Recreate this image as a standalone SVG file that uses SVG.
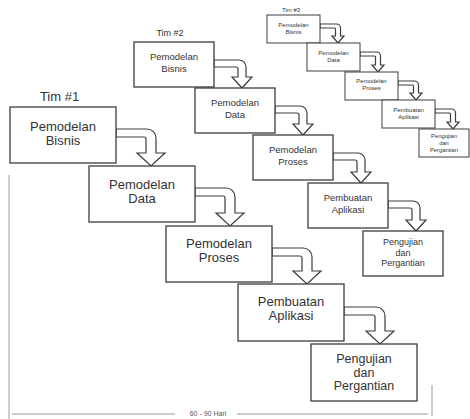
<svg xmlns="http://www.w3.org/2000/svg" width="470" height="419" viewBox="0 0 470 419">
<style>
.box{fill:#fff;stroke:#3c3c3c;stroke-width:1.3}
.arr{fill:#fff;stroke:#3c3c3c;stroke-width:1.2;stroke-linejoin:miter}
text{font-family:"Liberation Sans",Arial,sans-serif;fill:#333;text-anchor:middle}
.t1{font-size:13px}
.t1s{font-size:12.5px}
.t2{font-size:9.5px}
.t2s{font-size:9px}
.t3{font-size:6px}
.br{stroke:#9a9a9a;stroke-width:1;fill:none}
</style>
<rect width="470" height="419" fill="#fff"/>

<g id="connectors">
<path class="arr" d="M116,129 H147 A9,9 0 0 1 156,138 V153 H165 L151,166 L137,153 H146 V139 A2,2 0 0 0 144,137 H116 Z"/>
<path class="arr" d="M195,188 H226 A9,9 0 0 1 235,197 V213 H244 L230,226 L216,213 H225 V198 A2,2 0 0 0 223,196 H195 Z"/>
<path class="arr" d="M272,248 H303 A9,9 0 0 1 312,257 V271 H321 L307,284 L293,271 H302 V258 A2,2 0 0 0 300,256 H272 Z"/>
<path class="arr" d="M344,307 H376 A9,9 0 0 1 385,316 V331 H394 L380,344 L366,331 H375 V317 A2,2 0 0 0 373,315 H344 Z"/>
<path class="arr" d="M214,60 H239 A7,7 0 0 1 246,67 V77 H252 L242,88 L232,77 H238 V69 A2,2 0 0 0 236,67 H214 Z"/>
<path class="arr" d="M275,106 H300 A7,7 0 0 1 307,113 V124 H313 L303,135 L293,124 H299 V115 A2,2 0 0 0 297,113 H275 Z"/>
<path class="arr" d="M333,153 H358 A7,7 0 0 1 365,160 V172 H371 L361,183 L351,172 H357 V162 A2,2 0 0 0 355,160 H333 Z"/>
<path class="arr" d="M388,201 H413 A7,7 0 0 1 420,208 V220 H426 L416,231 L406,220 H412 V210 A2,2 0 0 0 410,208 H388 Z"/>
<path class="arr" d="M320,24 H336.5 A4,4 0 0 1 340.5,28 V36 H344 L338,43 L332,36 H335.5 V29 A1,1 0 0 0 334.5,28 H320 Z"/>
<path class="arr" d="M360,52 H376.5 A4,4 0 0 1 380.5,56 V65 H384 L378,72 L372,65 H375.5 V57 A1,1 0 0 0 374.5,56 H360 Z"/>
<path class="arr" d="M398,81 H414.5 A4,4 0 0 1 418.5,85 V93 H422 L416,100 L410,93 H413.5 V86 A1,1 0 0 0 412.5,85 H398 Z"/>
<path class="arr" d="M435,109 H451.5 A4,4 0 0 1 455.5,113 V122 H459 L453,129 L447,122 H450.5 V114 A1,1 0 0 0 449.5,113 H435 Z"/>
</g>

<g id="labels">
<text x="59.5" y="101" style="font-size:13px">Tim #1</text>
<text x="170" y="36" style="font-size:9px">Tim #2</text>
<text x="291" y="12" style="font-size:6px">Tim #3</text>
</g>

<g id="t1-bisnis"><rect class="box" x="10" y="107" width="106" height="56"/><text class="t1" x="63" y="131">Pemodelan</text><text class="t1" x="63" y="145">Bisnis</text></g>
<g id="t1-data"><rect class="box" x="89" y="166" width="106" height="56"/><text class="t1" x="142" y="189">Pemodelan</text><text class="t1" x="142" y="203">Data</text></g>
<g id="t1-proses"><rect class="box" x="166" y="226" width="106" height="56"/><text class="t1" x="219" y="248">Pemodelan</text><text class="t1" x="219" y="262">Proses</text></g>
<g id="t1-aplikasi"><rect class="box" x="238" y="284" width="106" height="57"/><text class="t1" x="291" y="306">Pembuatan</text><text class="t1" x="291" y="320">Aplikasi</text></g>
<g id="t1-pengujian"><rect class="box" x="311" y="344" width="106" height="57"/><text class="t1s" x="364" y="363">Pengujian</text><text class="t1s" x="364" y="376.5">dan</text><text class="t1s" x="364" y="390">Pergantian</text></g>

<g id="t2-bisnis"><rect class="box" x="134" y="42" width="80" height="45"/><text class="t2" x="174" y="60">Pemodelan</text><text class="t2" x="174" y="71.5">Bisnis</text></g>
<g id="t2-data"><rect class="box" x="195" y="88" width="80" height="45"/><text class="t2" x="235" y="106">Pemodelan</text><text class="t2" x="235" y="117.5">Data</text></g>
<g id="t2-proses"><rect class="box" x="253" y="135" width="80" height="45"/><text class="t2" x="293" y="153">Pemodelan</text><text class="t2" x="293" y="164.5">Proses</text></g>
<g id="t2-aplikasi"><rect class="box" x="308" y="183" width="80" height="45"/><text class="t2" x="348" y="201">Pembuatan</text><text class="t2" x="348" y="212.5">Aplikasi</text></g>
<g id="t2-pengujian"><rect class="box" x="363" y="231" width="80" height="45"/><text class="t2s" x="403" y="245">Pengujian</text><text class="t2s" x="403" y="255.5">dan</text><text class="t2s" x="403" y="266">Pergantian</text></g>

<g id="t3-bisnis"><rect class="box" x="267" y="15" width="53" height="28" style="stroke-width:1"/><text class="t3" x="293.5" y="26.5">Pemodelan</text><text class="t3" x="293.5" y="33.5">Bisnis</text></g>
<g id="t3-data"><rect class="box" x="307" y="43" width="53" height="28" style="stroke-width:1"/><text class="t3" x="333.5" y="54.5">Pemodelan</text><text class="t3" x="333.5" y="61.5">Data</text></g>
<g id="t3-proses"><rect class="box" x="345" y="72" width="53" height="28" style="stroke-width:1"/><text class="t3" x="371.5" y="83">Pemodelan</text><text class="t3" x="371.5" y="90">Proses</text></g>
<g id="t3-aplikasi"><rect class="box" x="382" y="100" width="53" height="28" style="stroke-width:1"/><text class="t3" x="408.5" y="111.5">Pembuatan</text><text class="t3" x="408.5" y="118.5">Aplikasi</text></g>
<g id="t3-pengujian"><rect class="box" x="419" y="129" width="50" height="28" style="stroke-width:1"/><text class="t3" x="444" y="137.5" style="font-size:5.8px">Pengujian</text><text class="t3" x="444" y="144.5" style="font-size:5.8px">dan</text><text class="t3" x="444" y="151.5" style="font-size:5.8px">Pergantian</text></g>

<g id="timeline">
<path class="br" d="M9,175 V419 M12,414 H175 M237,414 H428 M432,385 V416"/>
<text x="208" y="416" style="font-size:7px;fill:#555">60 - 90 Hari</text>
</g>
</svg>
